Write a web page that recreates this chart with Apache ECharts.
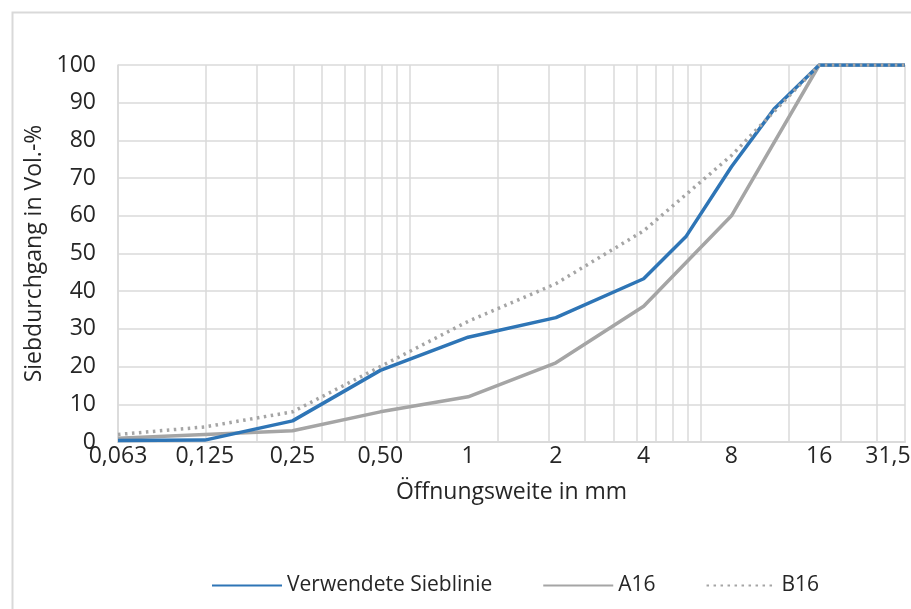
<!DOCTYPE html>
<html>
<head>
<meta charset="utf-8">
<script src="https://cdn.jsdelivr.net/npm/echarts@6/dist/echarts.min.js"></script>
<style>html,body{margin:0;padding:0;background:#fff}#c{width:911px;height:609px}</style>
</head>
<body>
<div id="c"></div>
<script>
// Sieve sizes (mm) and passing values (Vol.-%)
const sieveUsed = [0.063, 0.125, 0.25, 0.5, 1, 2, 4, 5.6, 8, 11.2, 16, 31.5];
const usedValues = [0.4, 0.5, 5.6, 19, 27.8, 33, 43.3, 54.6, 73, 88.3, 100, 100];
const sieveStd = [0.063, 0.125, 0.25, 0.5, 1, 2, 4, 8, 16, 31.5];
const a16Values = [1, 2, 3, 8, 12, 21, 36, 60, 100, 100];
const b16Values = [2, 4, 8, 20, 32, 42, 56, 76, 100, 100];
const xTickValues = [0.063, 0.125, 0.25, 0.5, 1, 2, 4, 8, 16, 31.5];
const xTickLabels = ['0,063', '0,125', '0,25', '0,50', '1', '2', '4', '8', '16', '31,5'];
const gridFactors = [1, 2, 3, 4, 5, 6, 7, 8, 9, 10, 20, 30, 40, 50, 60, 70, 80, 90, 100, 200, 300, 400, 500];
const gridValues = gridFactors.map(f => +(0.063 * f).toFixed(4));
const seriesNames = ['Verwendete Sieblinie', 'A16', 'B16'];

const pair = (xs, ys) => xs.map((x, i) => [x, ys[i]]);
const font = '"Open Sans", "Noto Sans", sans-serif';
const txt = '#262626';
const gridColor = '#dadada';

const chart = echarts.init(document.getElementById('c'), null, {renderer: 'canvas'});
chart.setOption({
  animation: false,
  backgroundColor: '#ffffff',
  graphic: [{
    type: 'rect', left: 10, top: 10,
    shape: {width: 930, height: 640},
    style: {fill: 'none', stroke: '#d9d9d9', lineWidth: 2}
  }],
  grid: {left: 118, right: 6, top: 65, bottom: 167, containLabel: false, outerBoundsMode: 'none'},
  legend: {
    bottom: 8, left: 206,
    itemWidth: 70, itemHeight: 14, itemGap: 50,
    itemStyle: {opacity: 0},
    textStyle: {fontFamily: font, fontSize: 21, color: txt},
    data: seriesNames
  },
  xAxis: {
    type: 'log', logBase: 10, min: 0.063, max: 31.5,
    name: 'Öffnungsweite in mm', nameLocation: 'middle', nameGap: 39,
    nameTextStyle: {fontFamily: font, fontSize: 23, color: txt},
    axisLine: {show: true, lineStyle: {color: gridColor, width: 2}},
    axisTick: {show: false, customValues: gridValues},
    splitLine: {show: true, lineStyle: {color: gridColor, width: 1.5}},
    axisLabel: {
      customValues: xTickValues,
      fontFamily: font, fontSize: 23, color: txt, margin: 3,
      formatter: v => {
        const i = xTickValues.findIndex(t => Math.abs(t - v) < 1e-6);
        if (i < 0) return '';
        return i === xTickValues.length - 1 ? '{r|' + xTickLabels[i] + '}' : xTickLabels[i];
      },
      rich: {r: {fontFamily: font, fontSize: 23, color: txt, padding: [0, 34, 0, 0]}}
    }
  },
  yAxis: {
    type: 'value', min: 0, max: 100, interval: 10,
    name: 'Siebdurchgang in Vol.-%', nameLocation: 'middle', nameGap: 67,
    nameTextStyle: {fontFamily: font, fontSize: 23, color: txt},
    axisLine: {show: true, lineStyle: {color: gridColor, width: 1.5}},
    axisTick: {show: false},
    splitLine: {show: true, lineStyle: {color: gridColor, width: 1.5}},
    axisLabel: {fontFamily: font, fontSize: 23, color: txt, margin: 22}
  },
  series: [
    {
      name: seriesNames[0], type: 'line', data: pair(sieveUsed, usedValues),
      symbol: 'none', z: 3,
      lineStyle: {color: '#2e75b6', width: 3.5}, itemStyle: {color: '#2e75b6'}
    },
    {
      name: seriesNames[1], type: 'line', data: pair(sieveStd, a16Values),
      symbol: 'none', z: 2,
      lineStyle: {color: '#a5a5a5', width: 3.5}, itemStyle: {color: '#a5a5a5'}
    },
    {
      name: seriesNames[2], type: 'line', data: pair(sieveStd, b16Values),
      symbol: 'none', z: 4,
      lineStyle: {color: '#a5a5a5', width: 3.5, type: [2.5, 4.5]}, itemStyle: {color: '#a5a5a5'}
    }
  ]
});
</script>
</body>
</html>
